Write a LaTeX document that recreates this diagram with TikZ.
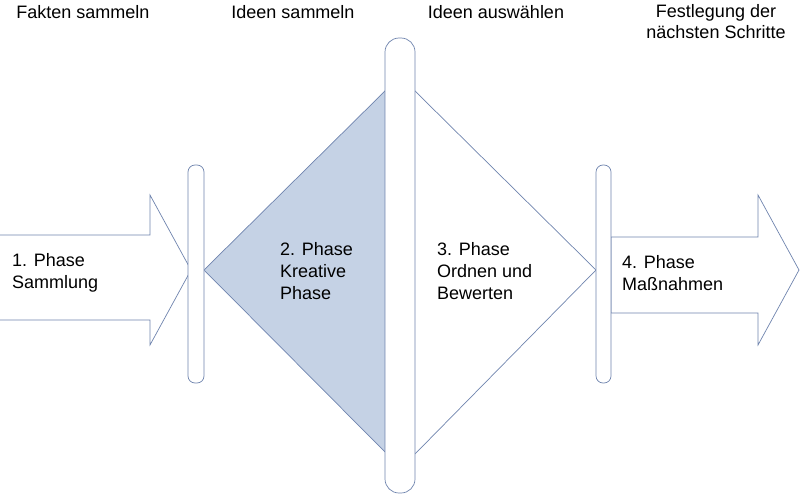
\documentclass[tikz,border=0pt]{standalone}
\usepackage{fontspec}
\setmainfont{Liberation Sans}
\begin{document}
\begin{tikzpicture}[x=1pt,y=-1pt,
  ln/.style={draw=lineb, line width=0.7pt, line join=miter},
  bar/.style={ln, fill=white, rounded corners=7pt},
  lbl/.style={font=\fontsize{18}{22}\selectfont, align=left, anchor=west, inner sep=0pt},
  top/.style={font=\fontsize{18}{21}\selectfont, align=center, inner sep=0pt}]
\definecolor{fillb}{HTML}{C5D2E5}
\definecolor{lineb}{HTML}{6F84AE}
\useasboundingbox (0,0) rectangle (800,495);
% left arrow
\draw[ln, fill=white] (-2,235) -- (150,235) -- (150,195) -- (191,270) -- (150,345) -- (150,320) -- (-2,320);
% right arrow
\draw[ln, fill=white] (611,237) -- (758,237) -- (758,195) -- (799,270) -- (758,345) -- (758,313) -- (611,313) -- cycle;
% triangles
\draw[ln, fill=fillb] (204,270) -- (388,88) -- (388,455) -- cycle;
\draw[ln, fill=white] (414,90) -- (596,270) -- (414,455) -- cycle;
% bars
\draw[bar] (188,165) rectangle (204,383);
\draw[bar, rounded corners=14pt] (385,38) rectangle (415,493);
\draw[bar] (596,165) rectangle (611,383);
% labels
\node[lbl] (p1) at (12,273) {1. Phase\\Sammlung};
\node[lbl] (p2) at (280,271) {2. Phase\\Kreative\\Phase};
\node[lbl] (p3) at (437,271) {3. Phase\\Ordnen und\\Bewerten};
\node[lbl] (p4) at (622,273) {4. Phase\\Maßnahmen};
\node[top] (t1) at (83,12) {Fakten sammeln};
\node[top] (t2) at (293,12) {Ideen sammeln};
\node[top] (t3) at (496,12) {Ideen auswählen};
\node[top] (t4) at (716,22) {Festlegung der\\nächsten Schritte};
\end{tikzpicture}
\end{document}
